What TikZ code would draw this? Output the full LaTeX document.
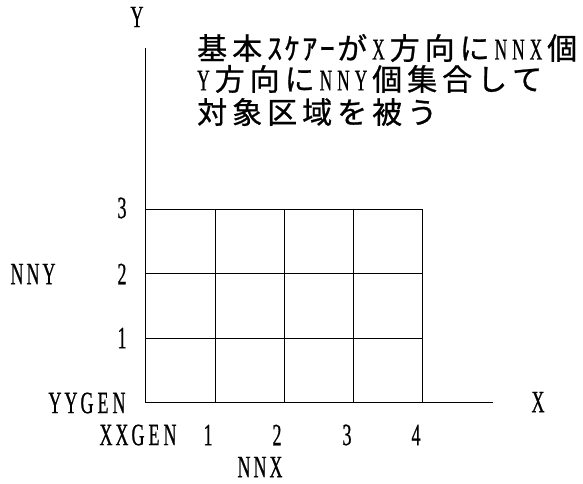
\documentclass[tikz,border=0pt]{standalone}
\usepackage{fontspec}
\newfontfamily\lat{Liberation Serif}[FakeStretch=0.58,FakeBold=0.6]
\newfontfamily\cjk{Noto Sans CJK JP}[FakeBold=0.8]
\newcommand\LL[1]{\makebox[16pt]{#1}}
\newcommand\FW[1]{\makebox[35pt][l]{\cjk #1}}
\newcommand\HW[1]{\makebox[17.5pt][l]{#1}}
\tikzset{
  lbl/.style={inner sep=0pt, font=\lat\fontsize{31}{31}\selectfont},
  jp/.style={inner sep=0pt, anchor=west, font=\lat\fontsize{30}{30}\selectfont},
  ln/.style={line width=0.9pt, black}
}
\begin{document}
\begin{tikzpicture}[x=1pt,y=-1pt]
\useasboundingbox (0,0) rectangle (583,483);
% key coordinates
\coordinate (o) at (145,402);
\coordinate (ytop) at (145,48);
\coordinate (xend) at (493,402);
\coordinate (gtl) at (145,209);
\coordinate (gbr) at (422,402);
% axes
\draw[ln] (ytop) -- (o) -- (xend);
% grid
\draw[ln] (gtl) rectangle (gbr);
\foreach \x in {215,284,353} \draw[ln] (\x,209) -- (\x,402);
\foreach \y in {273.5,338} \draw[ln] (145,\y) -- (422,\y);
% axis labels
\node[lbl] (ylab) at (137,17) {Y};
\node[lbl] (xlab) at (538,402) {X};
\node[lbl] (y3) at (122,208) {3};
\node[lbl] (y2) at (122,274) {2};
\node[lbl] (y1) at (122,338) {1};
\node[lbl] (nny) at (33,274) {\LL{N}\LL{N}\LL{Y}};
\node[lbl] (yygen) at (87,403) {\LL{Y}\LL{Y}\LL{G}\LL{E}\LL{N}};
\node[lbl] (xxgen) at (138,435) {\LL{X}\LL{X}\LL{G}\LL{E}\LL{N}};
\node[lbl] (x1) at (208,435) {1};
\node[lbl] (x2) at (277,435) {2};
\node[lbl] (x3) at (347,435) {3};
\node[lbl] (x4) at (416,435) {4};
\node[lbl] (nnx) at (260,467) {\LL{N}\LL{N}\LL{X}};
% Japanese text
\node[jp] (t1) at (197,48) {\FW{基}\FW{本}\HW{\cjk ｽ}\HW{\cjk ｹ}\HW{\cjk ｱ}\HW{\cjk ｰ}\FW{が}\HW{X}\FW{方}\FW{向}\FW{に}\HW{N}\HW{N}\HW{X}\FW{個}};
\node[jp] (t2) at (197,79) {\HW{Y}\FW{方}\FW{向}\FW{に}\HW{N}\HW{N}\HW{Y}\FW{個}\FW{集}\FW{合}\FW{し}\FW{て}};
\node[jp] (t3) at (197,112) {\FW{対}\FW{象}\FW{区}\FW{域}\FW{を}\FW{被}\FW{う}};
\end{tikzpicture}
\end{document}
